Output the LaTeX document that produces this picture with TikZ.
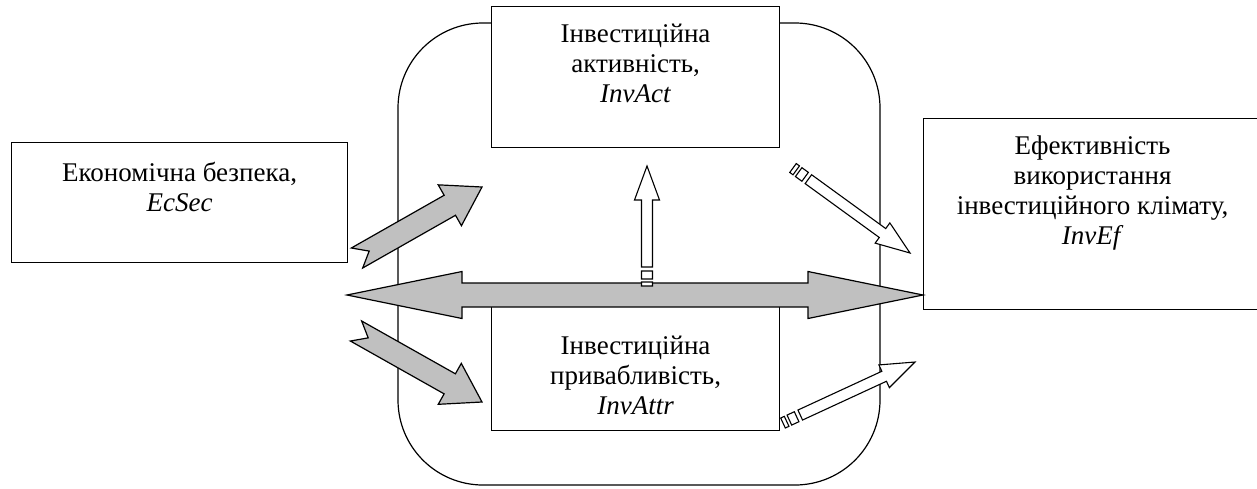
\documentclass[tikz,border=0pt]{standalone}
\usepackage{fontspec}
\setmainfont{Liberation Serif}
\usepackage{tikz}
\usetikzlibrary{calc}

\definecolor{arrgrey}{HTML}{C0C0C0}

% block arrow laid from #2 to #3, outline #4 in local units (x along the arrow, \arrlen long)
\newcommand\alongarrow[4]{%
  \pgfpointdiff{\pgfpointanchor{#2}{center}}{\pgfpointanchor{#3}{center}}%
  \pgfgetlastxy\arrdx\arrdy
  \pgfmathsetmacro\arrlen{veclen(\arrdx,\arrdy)}%
  \pgfmathsetmacro\arrang{atan2(\arrdy,\arrdx)}%
  \draw[#1, shift={(#2)}, rotate=\arrang] #4;
}
\newcommand\notchshape{(0,-11.5) -- (\arrlen-37,-11.5) -- (\arrlen-37,-23.5) -- (\arrlen,0)
  -- (\arrlen-37,23.5) -- (\arrlen-37,11.5) -- (0,11.5) -- (14,0) -- cycle}
\newcommand\twoheadshape{(0,0) -- (115,-23.5) -- (115,-12) -- (\arrlen-115,-12) -- (\arrlen-115,-23.5)
  -- (\arrlen,0) -- (\arrlen-115,23.5) -- (\arrlen-115,12) -- (115,12) -- (115,23.5) -- cycle}
\newcommand\stripeshape{(0,-5.5) rectangle (4,5.5) (7,-5.5) rectangle (15,5.5)
  (19,-5.5) -- (\arrlen-34,-5.5) -- (\arrlen-34,-12.5) -- (\arrlen,0)
  -- (\arrlen-34,12.5) -- (\arrlen-34,5.5) -- (19,5.5) -- cycle}

\begin{document}
\begin{tikzpicture}[x=1pt, y=-1pt, line width=1.2pt,
  box/.style={draw, fill=white, inner sep=0pt, anchor=north west},
  txt/.style={anchor=north, inner sep=0pt, align=center, font=\fontsize{27}{30}\selectfont},
  greyblock/.style={draw, fill=arrgrey, line join=miter},
  whiteblock/.style={draw, fill=white, line width=1.1pt, line join=miter}]
  \useasboundingbox (0,0) rectangle (1257,488);

  \node[draw, rounded corners=85pt, minimum width=482pt, minimum height=462pt] (frame) at (639,254) {};

  \node[box, minimum width=336pt, minimum height=120pt,
    label={[txt, yshift=-20pt]north:{Економічна безпека,\\\textit{EcSec}}}] (ecsec) at (11,142) {};
  \node[box, minimum width=288pt, minimum height=141pt,
    label={[txt, yshift=-17pt]north:{Інвестиційна\\активність,\\\textit{InvAct}}}] (invact) at (491,6) {};
  \node[box, minimum width=288pt, minimum height=130pt,
    label={[txt, yshift=-35pt]north:{Інвестиційна\\привабливість,\\\textit{InvAttr}}}] (invattr) at (491,300) {};
  \node[box, minimum width=338pt, minimum height=191pt,
    label={[txt, yshift=-17pt]north:{Ефективність\\використання\\інвестиційного клімату,\\\textit{InvEf}}}] (invef) at (923,118) {};

  % grey arrows
  \coordinate (secup) at (357,258);   \coordinate (actin) at (482,187);
  \coordinate (secdown) at (356,331); \coordinate (attrin) at (482,402);
  \coordinate (bothl) at (347,295);   \coordinate (bothr) at (invef.west |- bothl);
  \alongarrow{greyblock}{secup}{actin}{\notchshape}
  \alongarrow{greyblock}{secdown}{attrin}{\notchshape}
  \alongarrow{greyblock}{bothl}{bothr}{\twoheadshape}

  % white striped arrows
  \coordinate (midup) at (647,286);   \coordinate (actlow) at (647,166);
  \coordinate (actout) at (793,168);  \coordinate (efup) at (910,253);
  \coordinate (attrout) at (783,423); \coordinate (eflow) at (915,362);
  \alongarrow{whiteblock}{midup}{actlow}{\stripeshape}
  \alongarrow{whiteblock}{actout}{efup}{\stripeshape}
  \alongarrow{whiteblock}{attrout}{eflow}{\stripeshape}
\end{tikzpicture}
\end{document}
